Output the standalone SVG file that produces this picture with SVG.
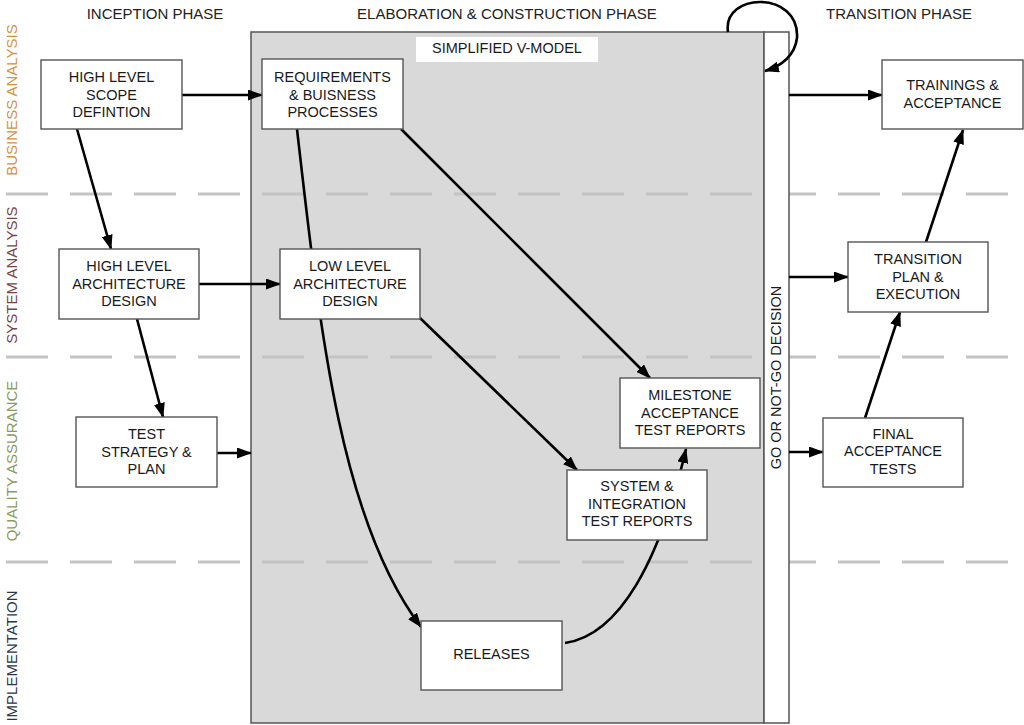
<svg xmlns="http://www.w3.org/2000/svg" width="1024" height="725" viewBox="0 0 1024 725">
<style>
text{font-family:"Liberation Sans",Arial,sans-serif;font-size:14.5px;fill:#1a1a1a}
.hdr{font-size:15px;fill:#222}
.mid{text-anchor:middle}
.box{fill:#fff;stroke:#555;stroke-width:1.4}
.lane{stroke:#c3c3c3;stroke-width:3;stroke-dasharray:42 22;fill:none}
.c{stroke:#000;stroke-width:2.6;fill:none;marker-end:url(#ah)}
</style>
<defs>
<marker id="ah" markerUnits="userSpaceOnUse" markerWidth="15" markerHeight="11" refX="14" refY="5.5" orient="auto">
<path d="M0,0 L15,5.5 L0,11 z" fill="#000"/>
</marker>
</defs>
<rect width="1024" height="725" fill="#fff"/>

<g id="headers">
<text class="hdr mid" x="155" y="19">INCEPTION PHASE</text>
<text class="hdr mid" x="507" y="19">ELABORATION &amp; CONSTRUCTION PHASE</text>
<text class="hdr mid" x="899" y="19">TRANSITION PHASE</text>
</g>

<g id="lanes-labels">
<text class="hdr mid" transform="translate(17,100) rotate(-90)" style="fill:#d4913f">BUSINESS ANALYSIS</text>
<text class="hdr mid" transform="translate(17,275) rotate(-90)" style="fill:#7b4444">SYSTEM ANALYSIS</text>
<text class="hdr mid" transform="translate(17,461) rotate(-90)" style="fill:#8c9a5c">QUALITY ASSURANCE</text>
<text class="hdr mid" transform="translate(17,656) rotate(-90)" style="fill:#2b3550">IMPLEMENTATION</text>
</g>

<g id="panel">
<rect x="251" y="32" width="513" height="691" fill="#d9d9d9" stroke="#555" stroke-width="1.5"/>
</g>

<g id="lane-lines">
<line class="lane" x1="6" y1="194" x2="1008" y2="194"/>
<line class="lane" x1="6" y1="357" x2="1008" y2="357"/>
<line class="lane" x1="6" y1="562" x2="1008" y2="562"/>
</g>

<g id="decision">
<rect x="764" y="32" width="25" height="691" fill="#fff" stroke="#555" stroke-width="1.5"/>
<text class="mid" transform="translate(781,377.5) rotate(-90)">GO OR NOT-GO DECISION</text>
</g>

<g id="vmodel-title">
<rect x="416" y="37" width="182" height="25" fill="#fff"/>
<text class="mid" x="507" y="53">SIMPLIFIED V-MODEL</text>
</g>

<g id="connectors">
<line class="c" x1="182" y1="95" x2="262" y2="95"/>
<line class="c" x1="199" y1="284" x2="280" y2="284"/>
<line class="c" x1="217" y1="453" x2="251" y2="453"/>
<line class="c" x1="77" y1="129" x2="111" y2="249"/>
<line class="c" x1="137" y1="319" x2="163" y2="417"/>
<line class="c" x1="401" y1="129" x2="650" y2="378"/>
<line class="c" x1="420" y1="318" x2="577" y2="470"/>
<path class="c" d="M297,129 C320,330 340,520 421,627"/>
<path class="c" d="M565,643 C620,635 660,560 686,449"/>
<path class="c" d="M728,32 C722,-8 800,-10 797,38 C795,55 782,66 765,71"/>
<line class="c" x1="789" y1="95" x2="882" y2="95"/>
<line class="c" x1="789" y1="277" x2="848" y2="277"/>
<line class="c" x1="789" y1="452" x2="823" y2="452"/>
<line class="c" x1="865" y1="418" x2="900" y2="312"/>
<line class="c" x1="926" y1="242" x2="963" y2="130"/>
</g>

<g id="hl-scope">
<rect class="box" x="41" y="60" width="141" height="69"/>
<text class="mid" x="111.5" y="82">HIGH LEVEL</text>
<text class="mid" x="111.5" y="99.5">SCOPE</text>
<text class="mid" x="111.5" y="117">DEFINTION</text>
</g>
<g id="hl-arch">
<rect class="box" x="59" y="249" width="140" height="70"/>
<text class="mid" x="129" y="271">HIGH LEVEL</text>
<text class="mid" x="129" y="288.5">ARCHITECTURE</text>
<text class="mid" x="129" y="306">DESIGN</text>
</g>
<g id="test-strategy">
<rect class="box" x="76" y="417" width="141" height="70"/>
<text class="mid" x="146.5" y="439">TEST</text>
<text class="mid" x="146.5" y="456.5">STRATEGY &amp;</text>
<text class="mid" x="146.5" y="474">PLAN</text>
</g>
<g id="requirements">
<rect class="box" x="262" y="59" width="141" height="70"/>
<text class="mid" x="332.5" y="82">REQUIREMENTS</text>
<text class="mid" x="332.5" y="99.5">&amp; BUISNESS</text>
<text class="mid" x="332.5" y="117">PROCESSES</text>
</g>
<g id="ll-arch">
<rect class="box" x="280" y="249" width="140" height="70"/>
<text class="mid" x="350" y="271">LOW LEVEL</text>
<text class="mid" x="350" y="288.5">ARCHITECTURE</text>
<text class="mid" x="350" y="306">DESIGN</text>
</g>
<g id="milestone">
<rect class="box" x="620" y="378" width="140" height="70"/>
<text class="mid" x="690" y="400">MILESTONE</text>
<text class="mid" x="690" y="417.5">ACCEPTANCE</text>
<text class="mid" x="690" y="435">TEST REPORTS</text>
</g>
<g id="system-int">
<rect class="box" x="567" y="470" width="140" height="70"/>
<text class="mid" x="637" y="491">SYSTEM &amp;</text>
<text class="mid" x="637" y="508.5">INTEGRATION</text>
<text class="mid" x="637" y="526">TEST REPORTS</text>
</g>
<g id="releases">
<rect class="box" x="421" y="621" width="141" height="69"/>
<text class="mid" x="491.5" y="659">RELEASES</text>
</g>
<g id="trainings">
<rect class="box" x="882" y="60" width="141" height="69"/>
<text class="mid" x="952.5" y="90">TRAININGS &amp;</text>
<text class="mid" x="952.5" y="107.5">ACCEPTANCE</text>
</g>
<g id="transition-plan">
<rect class="box" x="848" y="242" width="140" height="70"/>
<text class="mid" x="918" y="263.5">TRANSITION</text>
<text class="mid" x="918" y="281.5">PLAN &amp;</text>
<text class="mid" x="918" y="299">EXECUTION</text>
</g>
<g id="final-acceptance">
<rect class="box" x="823" y="418" width="140" height="69"/>
<text class="mid" x="893" y="438.5">FINAL</text>
<text class="mid" x="893" y="456">ACCEPTANCE</text>
<text class="mid" x="893" y="473.5">TESTS</text>
</g>
</svg>
